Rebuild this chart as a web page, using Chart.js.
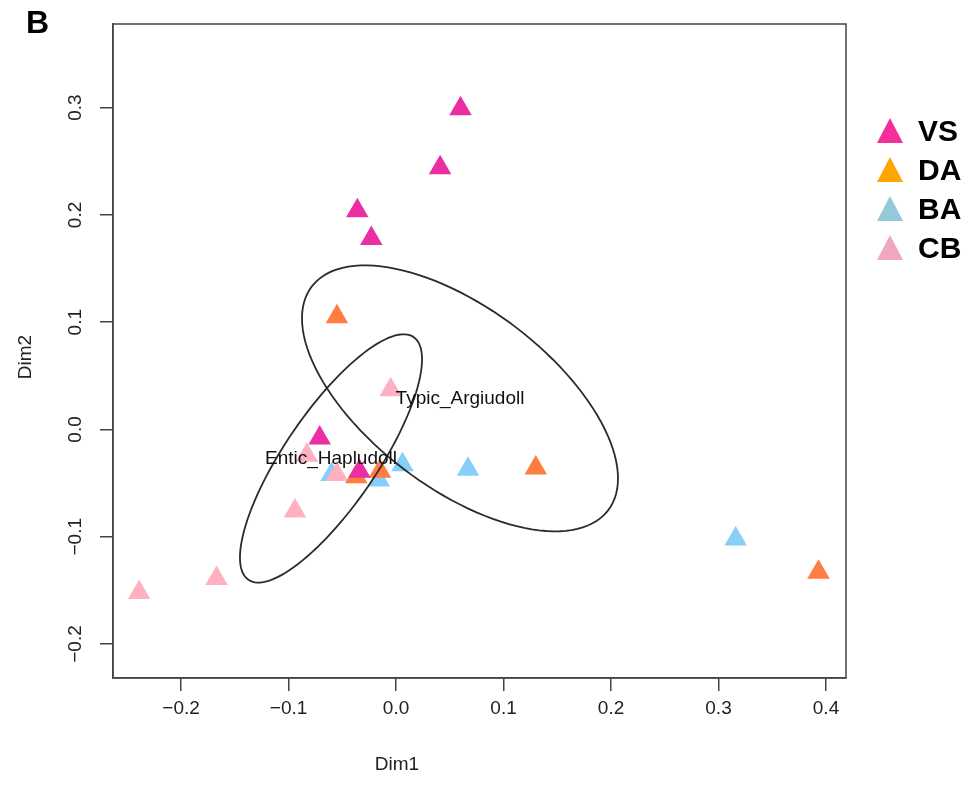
<!DOCTYPE html>
<html>
<head>
<meta charset="utf-8">
<script src="https://cdn.jsdelivr.net/npm/chart.js@4/dist/chart.umd.min.js"></script>
<style>
  body { margin: 0; background: #fff; }
  #wrap { width: 977px; height: 787px; }
</style>
</head>
<body>
<div id="wrap"><canvas id="ordiPlot"></canvas></div>
<script>
// 各グループの座標 (Dim1, Dim2)
const vsX = [0.060, 0.041, -0.036, -0.023, -0.071, -0.034];
const vsY = [0.299, 0.244, 0.204, 0.178, -0.008, -0.039];
const daX = [-0.055, 0.130, 0.393, -0.015, -0.037];
const daY = [0.105, -0.036, -0.133, -0.039, -0.044];
const baX = [0.006, 0.067, -0.060, -0.016, 0.316];
const baY = [-0.033, -0.037, -0.042, -0.047, -0.102];
const cbX = [-0.005, -0.083, -0.055, -0.094, -0.167, -0.239];
const cbY = [0.037, -0.024, -0.042, -0.076, -0.139, -0.152];

const groupNames = ['VS', 'DA', 'BA', 'CB'];
const xTicks = [-0.2, -0.1, 0.0, 0.1, 0.2, 0.3, 0.4];
const yTicks = [-0.2, -0.1, 0.0, 0.1, 0.2, 0.3];

// 楕円 (中心と共役半軸)
const ellipseNames = ['Typic_Argiudoll', 'Entic_Hapludoll'];
const ellipseCenters = [[0.0595, 0.029], [-0.0605, -0.027]];
const ellipseAxisU = [[0.147, -0.0746], [0.0847, 0.0924]];
const ellipseAxisV = [[0, 0.099], [0, 0.0697]];

const pointColors = ['#EA2FA2', '#FF7D40', '#87CEFA', '#FFB1C2'];
const legendColors = ['#F42E9B', '#FFA500', '#93C9DA', '#EFA7C0'];

function toPoints(xs, ys) {
    return xs.map((x, i) => ({ x: x, y: ys[i] }));
}
function fmt(v) {
    const r = Math.round(v * 10) / 10;
    return (r < 0 ? '\u2212' : '') + Math.abs(r).toFixed(1);
}

const FONT = 'Liberation Sans, Arial, sans-serif';

const decorPlugin = {
    id: 'decor',
    afterDatasetsDraw(chart) {
        const ctx = chart.ctx;
        const xs = chart.scales.x, ys = chart.scales.y;
        ctx.save();
        ctx.strokeStyle = '#2b2b2b';
        ctx.lineWidth = 1.8;
        ellipseCenters.forEach((c, k) => {
            const cx = xs.getPixelForValue(c[0]), cy = ys.getPixelForValue(c[1]);
            const ux = xs.getPixelForValue(c[0] + ellipseAxisU[k][0]) - cx;
            const uy = ys.getPixelForValue(c[1] + ellipseAxisU[k][1]) - cy;
            const vx = xs.getPixelForValue(c[0] + ellipseAxisV[k][0]) - cx;
            const vy = ys.getPixelForValue(c[1] + ellipseAxisV[k][1]) - cy;
            ctx.beginPath();
            for (let i = 0; i <= 120; i++) {
                const t = i / 120 * Math.PI * 2;
                const px = cx + ux * Math.cos(t) + vx * Math.sin(t);
                const py = cy + uy * Math.cos(t) + vy * Math.sin(t);
                if (i === 0) ctx.moveTo(px, py); else ctx.lineTo(px, py);
            }
            ctx.closePath();
            ctx.stroke();
        });
        ctx.fillStyle = '#111';
        ctx.font = '19px ' + FONT;
        ctx.textAlign = 'center';
        ctx.textBaseline = 'middle';
        ellipseCenters.forEach((c, k) => {
            ctx.fillText(ellipseNames[k], xs.getPixelForValue(c[0]), ys.getPixelForValue(c[1]));
        });
        ctx.restore();
    },
    afterDraw(chart) {
        const ctx = chart.ctx;
        const a = chart.chartArea;
        ctx.save();
        ctx.strokeStyle = '#444';
        ctx.lineWidth = 1.5;
        ctx.strokeRect(a.left, a.top, a.right - a.left, a.bottom - a.top);

        ctx.fillStyle = '#000';
        ctx.font = 'bold 32px ' + FONT;
        ctx.textAlign = 'left';
        ctx.textBaseline = 'alphabetic';
        ctx.fillText('B', 26, 33);

        ctx.fillStyle = '#222';
        ctx.font = '19px ' + FONT;
        ctx.textAlign = 'center';
        ctx.textBaseline = 'middle';
        ctx.fillText('Dim1', 397, 765);
        ctx.translate(26, 357);
        ctx.rotate(-Math.PI / 2);
        ctx.fillText('Dim2', 0, 0);
        ctx.setTransform(1, 0, 0, 1, 0, 0);

        // 凡例
        ctx.font = 'bold 30px ' + FONT;
        ctx.textAlign = 'left';
        groupNames.forEach((name, i) => {
            const y = 132 + i * 39;
            const x = 890;
            ctx.fillStyle = legendColors[i];
            ctx.beginPath();
            ctx.moveTo(x, y - 14);
            ctx.lineTo(x + 13, y + 11);
            ctx.lineTo(x - 13, y + 11);
            ctx.closePath();
            ctx.fill();
            ctx.fillStyle = '#000';
            ctx.fillText(name, 918, y + 1);
        });
        ctx.restore();
    }
};

const ctx = document.getElementById('ordiPlot').getContext('2d');
new Chart(ctx, {
    type: 'scatter',
    data: {
        datasets: [
            { label: 'VS', data: toPoints(vsX, vsY), backgroundColor: pointColors[0], order: 0 },
            { label: 'DA', data: toPoints(daX, daY), backgroundColor: pointColors[1], order: 1 },
            { label: 'BA', data: toPoints(baX, baY), backgroundColor: pointColors[2], order: 3 },
            { label: 'CB', data: toPoints(cbX, cbY), backgroundColor: pointColors[3], order: 2 }
        ]
    },
    options: {
        responsive: true,
        maintainAspectRatio: false,
        animation: false,
        elements: {
            point: { pointStyle: 'triangle', radius: 13, hoverRadius: 13, borderWidth: 0 }
        },
        layout: { padding: { top: 24, right: 131, bottom: 0, left: 0 } },
        plugins: {
            legend: { display: false },
            tooltip: { enabled: false }
        },
        scales: {
            x: {
                type: 'linear',
                min: -0.2633,
                max: 0.4186,
                afterBuildTicks: s => { s.ticks = xTicks.map(v => ({ value: v })); },
                afterFit: s => { s.height = 109; },
                grid: { drawOnChartArea: false, drawTicks: true, tickLength: 13, color: '#444', lineWidth: 1.5 },
                border: { display: true, color: '#444', width: 1.5 },
                ticks: {
                    color: '#222',
                    padding: 6,
                    maxRotation: 0,
                    font: { family: FONT, size: 19 },
                    callback: v => fmt(v)
                }
            },
            y: {
                type: 'linear',
                min: -0.2317,
                max: 0.378,
                afterBuildTicks: s => { s.ticks = yTicks.map(v => ({ value: v })); },
                afterFit: s => { s.width = 113; },
                grid: { drawOnChartArea: false, drawTicks: true, tickLength: 13, color: '#444', lineWidth: 1.5 },
                border: { display: true, color: '#444', width: 1.5 },
                ticks: {
                    color: '#222',
                    padding: 5,
                    minRotation: 90,
                    maxRotation: 90,
                    crossAlign: 'center',
                    font: { family: FONT, size: 19 },
                    callback: v => fmt(v)
                }
            }
        }
    },
    plugins: [decorPlugin]
});
</script>
</body>
</html>
